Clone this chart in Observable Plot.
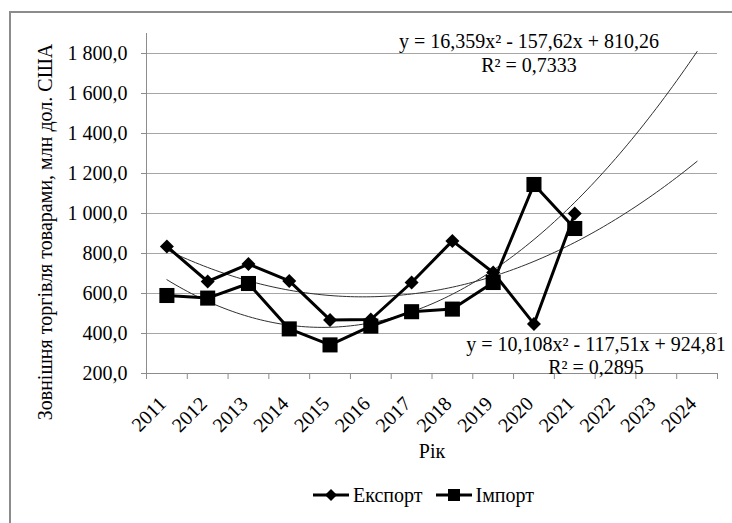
<!DOCTYPE html>
<html><head><meta charset="utf-8">
<style>
html,body{margin:0;padding:0;background:#fff;overflow:hidden;width:732px;height:523px;}
*{font-family:'Liberation Serif', 'Times New Roman', serif !important;}
#wrap{position:relative;width:732px;height:523px;color:#000;}
#border{position:absolute;left:9px;top:11px;width:800px;height:600px;border:2px solid #8c8c8c;box-sizing:border-box;}
#chart{position:absolute;left:0;top:0;}
#legend{position:absolute;left:313px;top:482px;height:26px;display:flex;align-items:center;font-size:20px;white-space:nowrap;}
#legend .item{display:flex;align-items:center;}
#legend svg{display:block;margin-right:4px;}
</style>
<script src="https://cdn.jsdelivr.net/npm/d3@7"></script>
<script src="https://cdn.jsdelivr.net/npm/@observablehq/plot@0.6"></script>
</head><body>
<div id="wrap">
  <div id="border"></div>
  <div id="chart"></div>
  <div id="legend"></div>
</div>
<script>
const years = ["2011","2012","2013","2014","2015","2016","2017","2018","2019","2020","2021","2022","2023","2024"];
const exportValues = [835, 660, 747, 663, 468, 470, 655, 863, 705, 448, 1000];
const importValues = [590, 577, 650, 423, 343, 437, 509, 522, 655, 1145, 925];
const yTicks = [200, 400, 600, 800, 1000, 1200, 1400, 1600, 1800];
const xBoundaries = [0.5,1.5,2.5,3.5,4.5,5.5,6.5,7.5,8.5,9.5,10.5,11.5,12.5,13.5,14.5];
const importTrendCoef = [16.359, -157.62, 810.26];
const exportTrendCoef = [10.108, -117.51, 924.81];
const importTrendLabel = "y = 16,359x² - 157,62x + 810,26\nR² = 0,7333";
const exportTrendLabel = "y = 10,108x² - 117,51x + 924,81\nR² = 0,2895";
const seriesNames = ["Експорт", "Імпорт"];

const FONT = "Liberation Serif, serif";
const FS = 20;
const locale = d3.formatLocale({decimal: ",", thousands: "\u00a0", grouping: [3], currency: ["", ""]});
const fmt = locale.format(",.1f");

// trend curves sampled from the printed equations (x = 1 .. 14)
function trendPoints(c) {
  const pts = [];
  for (let k = 0; k <= 130; k++) {
    const x = 1 + k * 0.1;
    pts.push({x, y: c[0] * x * x + c[1] * x + c[2]});
  }
  return pts;
}
const importTrend = trendPoints(importTrendCoef);
const exportTrend = trendPoints(exportTrendCoef);

const exportData = exportValues.map((v, i) => ({x: i + 1, y: v, year: years[i]}));
const importData = importValues.map((v, i) => ({x: i + 1, y: v, year: years[i]}));

const chart = Plot.plot({
  width: 732,
  height: 470,
  marginLeft: 146,
  marginRight: 15,
  marginTop: 33,
  marginBottom: 97,
  x: {domain: [0.5, 14.5]},
  y: {domain: [200, 1900]},
  style: {fontFamily: FONT, fontSize: FS + "px", color: "#000", background: "transparent", overflow: "visible"},
  marks: [
    Plot.gridY(yTicks, {stroke: "#a6a6a6", strokeOpacity: 1, strokeWidth: 1}),
    Plot.frame({anchor: "left", stroke: "#8c8c8c", strokeWidth: 1}),
    Plot.frame({anchor: "bottom", stroke: "#8c8c8c", strokeWidth: 1}),
    Plot.axisY(yTicks, {tickSize: 5, tickPadding: 14, tickFormat: fmt, stroke: "#8c8c8c", fill: "#000", fontSize: FS, label: null}),
    Plot.axisX(xBoundaries, {tickSize: 6, tickFormat: () => "", stroke: "#8c8c8c", label: null}),
    Plot.text(years, {x: (d, i) => i + 1, frameAnchor: "bottom", rotate: -45, textAnchor: "end", lineAnchor: "middle", dx: -4, dy: 27, fontSize: FS, fill: "#000"}),
    Plot.line(importTrend, {x: "x", y: "y", stroke: "#303030", strokeWidth: 1}),
    Plot.line(exportTrend, {x: "x", y: "y", stroke: "#303030", strokeWidth: 1}),
    Plot.line(importData, {x: "x", y: "y", stroke: "#000", strokeWidth: 3}),
    Plot.dot(importData, {x: "x", y: "y", symbol: "square", r: 8.5, fill: "#000"}),
    Plot.line(exportData, {x: "x", y: "y", stroke: "#000", strokeWidth: 3}),
    Plot.dot(exportData, {x: "x", y: "y", symbol: "diamond2", r: 6.3, fill: "#000"}),
    Plot.text([importTrendLabel], {frameAnchor: "top", lineAnchor: "bottom", textAnchor: "middle", dx: 97, dy: 38, lineHeight: 1.2, fontSize: FS, fill: "#000"}),
    Plot.text([exportTrendLabel], {frameAnchor: "bottom", lineAnchor: "bottom", textAnchor: "middle", dx: 164, dy: 0, lineHeight: 1.15, fontSize: FS, fill: "#000"}),
    Plot.text(["Рік"], {frameAnchor: "bottom", lineAnchor: "bottom", dy: 84, fontSize: FS, fill: "#000"}),
    Plot.text(["Зовнішня торгівля товарами, млн дол. США"], {frameAnchor: "left", rotate: -90, textAnchor: "middle", lineAnchor: "middle", dx: -101, dy: 28.5, fontSize: FS, fill: "#000"})
  ]
});
document.getElementById("chart").appendChild(chart);

// legend
const legend = document.getElementById("legend");
const swatches = [
  '<svg width="36" height="20"><line x1="0" y1="10" x2="36" y2="10" stroke="#000" stroke-width="3"/><path d="M18,4 L24,10 L18,16 L12,10 Z" fill="#000"/></svg>',
  '<svg width="36" height="20"><line x1="0" y1="10" x2="36" y2="10" stroke="#000" stroke-width="3"/><rect x="12" y="4" width="12" height="12" fill="#000"/></svg>'
];
seriesNames.forEach((name, i) => {
  const item = document.createElement("div");
  item.className = "item";
  item.style.marginRight = i === 0 ? "13px" : "0";
  item.innerHTML = swatches[i] + "<span>" + name + "</span>";
  legend.appendChild(item);
});
</script>
</body></html>
